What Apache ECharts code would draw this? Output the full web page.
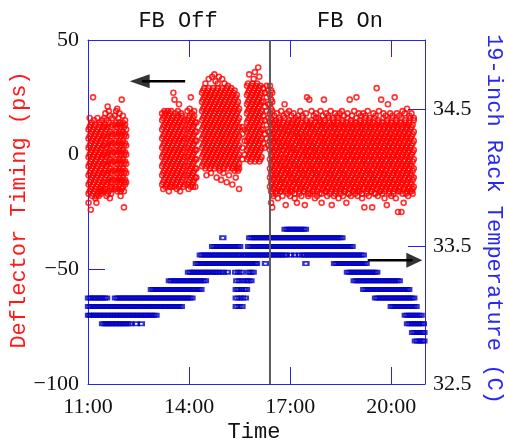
<!DOCTYPE html>
<html><head><meta charset="utf-8">
<script src="https://cdn.jsdelivr.net/npm/echarts@6/dist/echarts.min.js"></script>
<style>html,body{margin:0;padding:0;background:#fff}#c{width:509px;height:443px}</style>
</head><body><div id="c"></div>
<script>
// Time is minutes after 11:00. Each timing column: [time, value, value, ...] (ps)
const fbOffA = [
[1,-17,-13,-9,-5,-1,3,7,11,-21],[3,-16,-12,-8,-4,0,4,8,12,16],[5,-15,-11,-7,-3,1,5,9,13,-24],
[7,-18,-14,-10,-6,-2,2,6,10,14],[9,-17,-13,-9,-5,-1,3,7,11,25],[11,-16,-12,-8,-4,0,4,8,12,15],
[13,-15,-11,-7,-3,1,5,9,13,-19],[15,-18,-14,-10,-6,-2,2,6,10,-21],[17,-17,-13,-9,-5,-1,3,7,11,16],
[19,-16,-12,-8,-4,0,4,8,12,-18],[21,-15,-11,-7,-3,1,5,9,13,14],[23,-17,-14,-10,-6,-2,2,6,10,-16],
[25,-16,-13,-9,-5,-1,3,7,11,15],[27,-15,-12,-8,-4,0,4,8,12],
[29,-16,-12,-8,-4,0,4,8,12,16],[31,-15,-11,-7,-3,1,5,9,13,18],[33,-18,-13,-9,-5,-1,3,7,11,15],
[35,-17,-12,-8,-4,0,4,8,12,21],[37,-16,-11,-7,-3,1,5,9,14,19],[39,-19,-14,-10,-6,-2,2,6,10,17],
[41,-15,-12,-8,-4,0,4,8,12,-17],[43,-14,-11,-7,-3,1,5,9,13,16],
[48,-15,-11,-7,-3,1,5,9,13,17],[50,-14,-10,-6,-2,2,6,10,14,19],[52,-16,-12,-8,-4,0,4,8,12,20],
[54,-15,-11,-7,-3,1,5,9,13,16],[56,-13,-10,-6,-2,2,6,10,14,18],[58,-16,-12,-8,-4,0,4,8,12,-18],
[60,-15,-11,-7,-3,1,5,9,13,24],[62,-14,-10,-6,-2,2,6,10,14,17],[64,-16,-12,-8,-4,0,4,8,12,-23],
[66,-13,-11,-7,-3,1,5,9,13,15],[68,-12,-8,-4,0,4,8,11]
];
const fbOffB = [
[132,-13,-9,-5,-1,3,7,11,15,18],[134,-12,-8,-4,0,4,8,12,16,-15],[136,-11,-7,-3,1,5,9,13,17,19],
[138,-14,-10,-6,-2,2,6,10,14,18],[140,-13,-9,-5,-1,3,7,11,15,-13],[142,-12,-8,-4,0,4,8,12,16,19],
[144,-11,-7,-3,1,5,9,13,17,-16],[146,-14,-10,-6,-2,2,6,10,14,18],[148,-13,-9,-5,-1,3,7,11,15,19],
[150,-12,-8,-4,0,4,8,12,16,-14],[152,-11,-7,-3,1,5,9,13,17,27],[154,-14,-10,-6,-2,2,6,10,14,24],
[156,-13,-9,-5,-1,3,7,11,15,18],[158,-12,-8,-4,0,4,8,12,16,-15],[160,-11,-7,-3,1,5,9,13,17,19],
[162,-14,-10,-6,-2,2,6,10,14,22],[164,-13,-9,-5,-1,3,7,11,15,-16],[166,-12,-8,-4,0,4,8,12,16,18],
[168,-11,-7,-3,1,5,9,13,17],[170,-14,-10,-6,-2,2,6,10,14],[172,-13,-9,-5,-1,3,7,11,15],
[177,-13,-9,-5,-1,3,7,11,15,19],[179,-12,-8,-4,0,4,8,12,16,-15],[181,-11,-7,-3,1,5,9,13,17,20],
[183,-14,-10,-6,-2,2,6,10,14,25],[185,-13,-9,-5,-1,3,7,11,15,18],[187,-12,-8,-4,0,4,8,12,16,-14],
[189,-11,-7,-3,1,5,9,13,17,19],[191,-14,-10,-6,-2,2,6,10,14],[193,-10,-6,-2,2,6,10,14]
];
const fbOffC = [
[203,-5,-1,3,7,11,15,19,23,27],[205,-4,0,4,8,12,16,20,24,28],[207,-3,1,5,9,13,17,21,25,29],
[209,-6,-2,2,6,10,14,18,22,26,31],[211,-5,-1,3,7,11,15,19,23,27,-9],[213,-4,0,4,8,12,16,20,24,28],
[215,-3,1,5,9,13,17,21,25,29,33],[217,-6,-2,2,6,10,14,18,22,26],[219,-5,-1,3,7,11,15,19,23,27,-8],
[221,-4,0,4,8,12,16,20,24,28,34],[223,-3,1,5,9,13,17,21,25,29],[225,-6,-2,2,6,10,14,18,22,26,35],
[227,-5,-1,3,7,11,15,19,23,27,32],[229,-4,0,4,8,12,16,20,24,28,-10],[231,-3,1,5,9,13,17,21,25,29,31],
[233,-6,-2,2,6,10,14,18,22,26,34],[235,-5,-1,3,7,11,15,19,23,27,-7],[237,-4,0,4,8,12,16,20,24,28,-11],
[239,-3,1,5,9,13,17,21,25,29,33],[241,-6,-2,2,6,10,14,18,22,26,-8],[243,-5,-1,3,7,11,15,19,23,27,31],
[245,-4,0,4,8,12,16,20,24,28],[247,-3,1,5,9,13,17,21,25,29,-12],[249,-6,-2,2,6,10,14,18,22,26,30],
[251,-5,-1,3,7,11,15,19,23,27,-9],[253,-4,0,4,8,12,16,20,24,28],[255,-3,1,5,9,13,17,21,25,29],
[257,-6,-2,2,6,10,14,18,22,26,-13],[259,-5,-1,3,7,11,15,19,23,27],[261,-4,0,4,8,12,16,20,24,28,-7],
[263,-3,1,5,9,13,17,21,25,-10],[265,-6,-2,2,6,10,14,18,22,26],[267,-5,-1,3,7,11,15,19,23,-7],
[269,-4,0,4,8,12,16,20,-15,-6],
[275,-2,3,9,12],[279,0,6,11],
[283,-2,2,6,10,14,18,22,26,30],[285,-1,3,7,11,15,19,23,27,31],[287,0,4,8,12,16,20,24,28,35],
[289,-3,1,5,9,13,17,21,25,29],[291,-2,2,6,10,14,18,22,26,30],[293,-1,3,7,11,15,19,23,27,31],
[295,0,4,8,12,16,20,24,28,33],[297,-3,1,5,9,13,17,21,25,29,36],[299,-2,2,6,10,14,18,22,26,30],
[301,-1,3,7,11,15,19,23,27,31],[303,0,4,8,12,16,20,24,28,38],[305,-3,1,5,9,13,17,21,25,29,34],
[307,-2,2,6,10,14,18,22,26,30],[309,-1,3,7,11,15,19,23,27],
[312,5,11,17,23,29],[315,3,9,15,21,27],[318,7,13,19,25,30],[321,4,10,16,22,28]
];
const fbOn = [
[324,30,26,22,18,14,10,6,2,-2,-6,-10,-14],[326,28,24,20,16,12,8,4,0,-4,-8,-12,-16,-21],
[328,27,23,19,15,11,7,3,-1,-5,-9,-13,-17,-23],
[330,-15,-11,-7,-3,1,5,9,13,-18],[332,-14,-10,-6,-2,2,6,10,14,17],[334,-13,-9,-5,-1,3,7,11,15,-17],
[336,-16,-12,-8,-4,0,4,8,12,18],[338,-15,-10,-7,-3,1,6,9,13,-19],[340,-14,-11,-6,-2,2,5,10,14,16],
[342,-13,-9,-4,-1,3,7,12,15,-16],[344,-16,-12,-8,-5,0,4,8,11,19],[346,-15,-11,-7,-3,2,5,9,13,-18],
[348,-14,-10,-6,-1,2,6,10,14,17],[350,-12,-9,-5,-2,3,7,11,16,22],[352,-16,-13,-8,-4,0,4,8,12,-22],
[354,-15,-11,-6,-3,1,5,9,13,18],[356,-14,-10,-7,-2,2,6,11,14,-17],[358,-13,-9,-5,-1,4,7,10,15,19],
[360,-16,-12,-8,-4,0,3,8,12,-18],[362,-15,-10,-7,-3,1,5,9,14,17],[364,-14,-11,-6,-2,3,6,10,13,-16],
[366,-13,-9,-4,-1,2,7,11,15,18],[368,-17,-12,-8,-5,0,4,8,12,-19],[370,-15,-11,-7,-3,1,5,10,13,16],
[372,-14,-10,-6,-2,2,6,9,14,-21],[374,-12,-9,-5,-1,3,8,11,15,17],[376,-16,-13,-8,-4,0,4,7,12,-17],
[378,-15,-11,-6,-3,1,5,9,13,19],[380,-14,-10,-7,-2,2,6,10,14,-18],[382,-13,-8,-5,-1,4,7,11,16,17],
[384,-16,-12,-9,-4,0,3,8,12,-16],[386,-15,-11,-7,-3,1,5,9,13,-22],[388,-14,-10,-6,-2,2,6,10,15,18],
[390,-13,-9,-4,0,3,8,11,14,25],[392,-17,-12,-8,-5,-1,4,7,12,-18],[394,-15,-11,-7,-3,1,5,9,13,24],
[396,-14,-10,-6,-2,2,6,10,14,-17],[398,-12,-9,-5,-1,4,7,12,15,19],[400,-16,-13,-8,-4,0,3,8,11,-16],
[402,-15,-11,-6,-3,1,5,9,13,17],[404,-14,-10,-7,-2,2,6,10,14,-19],[406,-13,-8,-5,0,3,7,11,16,18],
[408,-16,-12,-9,-4,-1,4,8,12,-18],[410,-15,-11,-7,-3,1,5,9,13,16],[412,-14,-10,-6,-2,2,6,10,15,-17],
[414,-12,-9,-4,-1,3,8,11,14,19],[416,-17,-13,-8,-5,0,4,7,12,-21],[418,-15,-11,-7,-3,1,5,9,13,17],
[420,-14,-10,-6,-2,2,6,10,14,24],[422,-13,-9,-5,0,4,7,12,15,-16],[424,-16,-12,-8,-4,-1,3,8,11,18],
[426,-15,-11,-7,-3,1,5,9,13,-18],[428,-14,-10,-6,-2,2,6,10,16,17],[430,-12,-8,-4,-1,3,7,11,14,-17],
[432,-16,-13,-9,-5,0,4,8,12,19],[434,-15,-11,-7,-3,1,5,9,13,-22],[436,-14,-10,-6,-2,2,6,10,15,16],
[438,-13,-9,-5,0,4,8,12,14,-18],[440,-17,-12,-8,-4,-1,3,7,11,18],[442,-15,-11,-7,-3,1,5,9,13,-16],
[444,-14,-10,-6,-2,2,6,10,14,17],[446,-12,-9,-4,-1,3,7,11,16,-19],[448,-16,-13,-8,-5,0,4,8,12,18],
[450,-15,-11,-7,-3,1,5,9,13,-17],[452,-14,-10,-6,-2,2,6,10,15,19],[454,-13,-8,-5,0,4,8,12,14,-18],
[456,-16,-12,-9,-4,-1,3,7,11,17],[458,-15,-11,-7,-3,1,5,9,13,-16],[460,-14,-10,-6,-2,2,6,10,14,-21],
[462,-12,-9,-4,-1,3,7,11,16,18],[464,-17,-13,-8,-5,0,4,8,12,-17],[466,-15,-11,-7,-3,1,5,9,13,24],
[468,-14,-10,-6,-2,2,6,10,15,-18],[470,-13,-9,-5,0,4,8,12,14,17],[472,-16,-12,-8,-4,-1,3,7,11,-16],
[474,-15,-11,-7,-3,1,5,9,13,19],[476,-14,-10,-6,-2,2,6,10,14,-17],[478,-12,-8,-4,-1,3,7,11,16,25],
[480,-16,-13,-9,-5,0,4,8,12,-18],[482,-15,-11,-7,-3,1,5,9,13,18],[484,-14,-10,-6,-2,2,6,10,15,-16],
[486,-13,-9,-5,0,4,8,12,14,17],[488,-17,-12,-8,-4,-1,3,7,11,-19],[490,-15,-11,-7,-3,1,5,9,13,18],
[492,-14,-10,-6,-2,2,6,10,14,-23],[494,-12,-9,-4,-1,3,7,11,16,17],[496,-16,-13,-8,-5,0,4,8,12,-17],
[498,-15,-11,-7,-3,1,5,9,13,19],[500,-14,-10,-6,-2,2,6,10,15,-18],[502,-13,-8,-5,0,4,8,12,14,16],
[504,-16,-12,-9,-4,-1,3,7,11,-16],[506,-15,-11,-7,-3,1,5,9,13,-23],[508,-14,-10,-6,-2,2,6,10,14,18],
[510,-12,-9,-4,-1,3,7,11,16,-17],[512,-17,-13,-8,-5,0,4,8,12,17],[514,-15,-11,-7,-3,1,5,9,13,29],
[516,-14,-10,-6,-2,2,6,10,15,-18],[518,-13,-9,-5,0,4,8,12,14,19],[520,-16,-12,-8,-4,-1,3,7,11,-16],
[522,-15,-11,-7,-3,1,5,9,13,24],[524,-14,-10,-6,-2,2,6,10,14,-17],[526,-12,-8,-4,-1,3,7,11,16,18],
[528,-16,-13,-9,-5,0,4,8,12,-19],[530,-15,-11,-7,-3,1,5,9,13,17],[532,-14,-10,-6,-2,2,6,10,15,-22],
[534,-13,-9,-5,0,4,8,12,14,22],[536,-17,-12,-8,-4,-1,3,7,11,-16],[538,-15,-11,-7,-3,1,5,9,13,18],
[540,-14,-10,-6,-2,2,6,10,14,-18],[542,-12,-9,-4,-1,3,7,11,16,17],[544,-16,-13,-8,-5,0,4,8,12,-17],
[546,-15,-11,-7,-3,1,5,9,13,25],[548,-14,-10,-6,-2,2,6,10,15,-19],[550,-13,-8,-5,0,4,8,12,14,18],
[552,-16,-12,-9,-4,-1,3,7,11,-25],[554,-15,-11,-7,-3,1,5,9,13,17],[556,-14,-10,-6,-2,2,6,10,14,-16],
[558,-12,-9,-4,-1,3,7,11,16,-25],[560,-17,-13,-8,-5,0,4,8,12,19],[562,-15,-11,-7,-3,1,5,9,13,-21],
[564,-14,-10,-6,-2,2,6,10,15,18],[566,-13,-9,-5,0,4,8,12,14,-17],[568,-16,-12,-8,-4,-1,3,7,11,20],
[570,-15,-11,-7,-3,1,5,9,13,-18],[572,-14,-10,-6,-2,2,6,10,14,17],[574,-12,-8,-4,-1,3,7,11,16,-16],
[576,-16,-13,-9,-5,0,4,8,12,18],[578,-15,-11,-7,-3,1,5,9,13,-17],[580,-14,-10,-6,-2,2,6,10,15,16]
];

// Rack temperature: sample times (minutes after 11:00) at each 0.0625 C level
const rack32_8125 = [583,587,591,595,598];
const rack32_875 = [578,582,586,590,594,598];
const rack32_9375 = [26,30,33,37,41,44,48,52,56,59,63,67,71,76,86,95,569,573,577,581,585,589,593,597];
const rack33_0 = [1,4,8,12,15,19,23,27,30,34,38,42,45,49,53,57,60,64,68,72,75,79,83,87,90,94,98,102,105,109,113,117,121,565,569,573,577,581,585,589,593];
const rack33_0625 = [1,5,9,12,16,20,24,27,31,35,39,42,46,50,54,57,61,65,69,72,76,80,84,87,91,95,99,102,106,110,114,117,121,125,129,132,136,140,144,147,151,155,159,162,166,264,269,274,540,544,548,552,556,560,564,568,572,576,580,584];
const rack33_125 = [1,5,9,13,17,21,25,29,33,49,53,57,61,65,69,73,77,81,85,89,93,97,101,105,109,113,117,121,125,129,133,137,141,145,149,153,157,161,165,169,173,177,181,185,264,269,275,280,512,516,520,524,528,532,536,540,544,548,552,556,560,564,568,572,576,580];
const rack33_1875 = [113,117,121,125,129,133,137,141,145,149,153,157,161,165,169,173,177,181,185,189,193,197,201,264,268,273,278,282,491,495,499,503,507,511,515,519,523,527,531,535,539,543,547,551,555,559,563,567,571];
const rack33_25 = [145,149,153,157,161,165,169,173,177,181,185,189,193,197,201,205,209,265,270,276,282,286,290,474,478,482,486,490,494,498,502,506,510,514,518,522,526,530,534,538,542,546,550,554];
const rack33_3125 = [179,183,187,191,195,199,203,207,211,215,219,223,227,231,236,241,248,263,268,273,286,290,294,462,466,470,474,478,482,486,490,494,498,502,506,510,514];
const rack33_375 = [193,197,201,205,209,213,217,221,225,229,233,237,241,245,249,253,257,261,265,269,273,277,281,285,289,293,297,300,316,388,439,443,447,451,455,459,463,467,471,475,479,483,487,491,495];
const rack33_4375 = [200,204,208,212,216,220,224,228,232,236,240,244,248,252,256,260,264,268,272,277,281,285,289,293,297,301,305,309,313,317,321,325,329,333,337,341,345,349,353,361,368,376,382,386,390,394,398,402,406,410,414,418,422,426,430,434,438,442,446,450,454,458,462,466,470,474,478,482,486,490];
const rack33_5 = [222,226,230,234,238,242,246,250,254,258,262,266,270,286,290,294,298,302,306,310,314,318,322,326,330,334,338,342,346,350,354,358,362,366,370,374,378,382,386,390,394,398,402,406,410,414,418,422,426,430,434,438,442,446,450,454,458,462,466,470];
const rack33_5625 = [240,288,292,296,300,304,308,312,316,320,324,328,332,336,340,344,348,352,356,360,364,368,372,376,380,384,388,392,396,400,404,408,412,416,420,424,428,432,436,440,444,448,452];
const rack33_625 = [351,355,359,363,367,371,375,379,383,387];

const rackRows = [
  [32.8125, rack32_8125],[32.875, rack32_875],[32.9375, rack32_9375],[33.0, rack33_0],
  [33.0625, rack33_0625],[33.125, rack33_125],[33.1875, rack33_1875],[33.25, rack33_25],
  [33.3125, rack33_3125],[33.375, rack33_375],[33.4375, rack33_4375],[33.5, rack33_5],
  [33.5625, rack33_5625],[33.625, rack33_625]
];

const fbSwitchTime = 324;           // FB turned on (~16:24)
const leftArrow = {v: 32, from: 173, to: 96, head: 92};
const rightArrow = {v: 33.40, from: 498, to: 578, head: 581};
const xTicks = ['11:00','14:00','17:00','20:00'];

function cols(list){const out=[];list.forEach(c=>{for(let i=1;i<c.length;i++)out.push([c[0],c[i]]);});return out;}
const timingData = cols(fbOffA).concat(cols(fbOffB), cols(fbOffC), cols(fbOn));
const rackData = [];
rackRows.forEach(r=>r[1].forEach(t=>rackData.push([t, r[0]])));

const AX = '#2626e6';
const LBL = {color:'#111', fontFamily:'Liberation Serif', fontSize:22};
const LINE = {show:true, onZero:false, lineStyle:{color:AX, width:1}};
const TICK = {show:true, inside:true, length:17, lineStyle:{color:AX, width:1}};
const chart = echarts.init(document.getElementById('c'), null, {renderer:'canvas'});
chart.setOption({
  animation:false,
  grid:{left:88, right:84, top:40, bottom:59, containLabel:false},
  xAxis:[
    {type:'value', position:'bottom', min:0, max:600, interval:180, axisLine:LINE, axisTick:TICK,
     axisLabel:Object.assign({margin:12, formatter:v=>{const i=Math.round(v/180);return (v%180===0 && i<xTicks.length)?xTicks[i]:'';}}, LBL),
     splitLine:{show:false}},
    {type:'value', position:'top', min:0, max:600, interval:180, axisLine:LINE, axisTick:TICK,
     axisLabel:{show:false}, splitLine:{show:false}}
  ],
  yAxis:[
    {type:'value', position:'left', min:-100, max:50, interval:50, axisLine:LINE, axisTick:TICK,
     axisLabel:Object.assign({margin:9, formatter:v=>String(v).replace('-', '\u2212')}, LBL),
     splitLine:{show:false}},
    {type:'value', position:'right', min:32.5, max:35, interval:1, axisLine:LINE, axisTick:TICK,
     axisLabel:Object.assign({margin:8, formatter:v=>(v>34.9?'':v.toFixed(1))}, LBL),
     splitLine:{show:false}}
  ],
  series:[
    {type:'scatter', xAxisIndex:0, yAxisIndex:0, data:timingData, symbol:'circle', symbolSize:5,
     itemStyle:{color:'rgba(255,0,0,0)', borderColor:'#ff0000', borderWidth:1.6}, silent:true,
     progressive:0, large:false, z:2},
    {type:'scatter', xAxisIndex:0, yAxisIndex:1, data:rackData, symbol:'rect', symbolSize:[5,3.4],
     itemStyle:{color:'rgba(0,0,0,0)', borderColor:'#0000c4', borderWidth:2}, silent:true,
     progressive:0, large:false, z:3},
    {type:'line', xAxisIndex:0, yAxisIndex:0, data:[[fbSwitchTime,-100],[fbSwitchTime,50]], symbol:'none',
     lineStyle:{color:'#5c5c5c', width:2}, silent:true, z:4},
    {type:'line', xAxisIndex:0, yAxisIndex:0, data:[[leftArrow.from,leftArrow.v],[leftArrow.to,leftArrow.v]], symbol:'none',
     lineStyle:{color:'#000', width:2.5}, silent:true, z:5},
    {type:'scatter', xAxisIndex:0, yAxisIndex:0, data:[[leftArrow.head,leftArrow.v]], symbol:'triangle', symbolSize:[14,20], symbolRotate:90,
     itemStyle:{color:'#000'}, silent:true, z:5},
    {type:'line', xAxisIndex:0, yAxisIndex:1, data:[[rightArrow.from,rightArrow.v],[rightArrow.to,rightArrow.v]], symbol:'none',
     lineStyle:{color:'#000', width:2.5}, silent:true, z:5},
    {type:'scatter', xAxisIndex:0, yAxisIndex:1, data:[[rightArrow.head,rightArrow.v]], symbol:'triangle', symbolSize:[15,16], symbolRotate:-90,
     itemStyle:{color:'#000'}, silent:true, z:5}
  ],
  graphic:[
    {type:'text', x:178, y:21, style:{text:'FB Off', fontFamily:'Liberation Mono', fontSize:22, fill:'#111', align:'center', verticalAlign:'middle', textAlign:'center', textVerticalAlign:'middle'}},
    {type:'text', x:350, y:21, style:{text:'FB On', fontFamily:'Liberation Mono', fontSize:22, fill:'#111', align:'center', verticalAlign:'middle', textAlign:'center', textVerticalAlign:'middle'}},
    {type:'text', x:254, y:432, style:{text:'Time', fontFamily:'Liberation Mono', fontSize:22, fill:'#111', align:'center', verticalAlign:'middle', textAlign:'center', textVerticalAlign:'middle'}},
    {type:'text', x:19, y:210, rotation:Math.PI/2, style:{text:'Deflector Timing (ps)', fontFamily:'Liberation Mono', fontSize:22, fill:'#ff1a1a', align:'center', verticalAlign:'middle', textAlign:'center', textVerticalAlign:'middle'}},
    {type:'text', x:494, y:219, rotation:-Math.PI/2, style:{text:'19-inch Rack Temperature (C)', fontFamily:'Liberation Mono', fontSize:22, fill:'#2828ee', align:'center', verticalAlign:'middle', textAlign:'center', textVerticalAlign:'middle'}}
  ]
});
</script></body></html>
